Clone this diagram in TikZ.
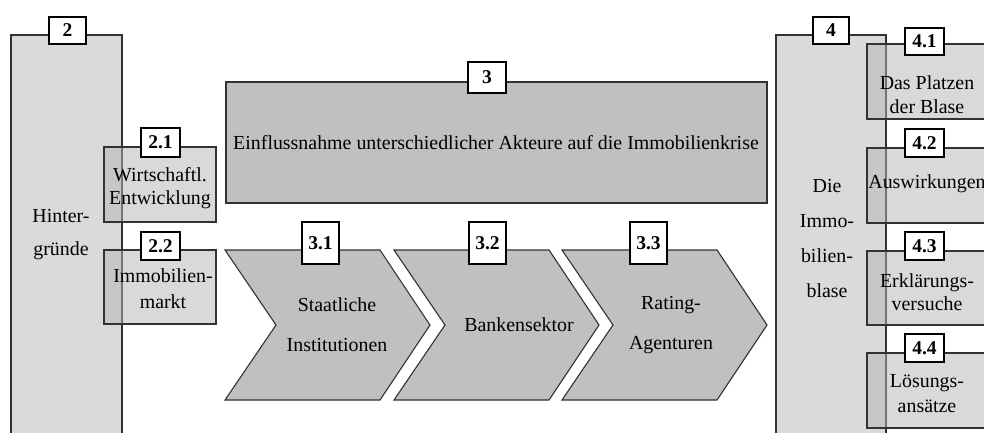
\documentclass[tikz,border=0pt]{standalone}
\usepackage{fontspec}
\setmainfont{Liberation Serif}
\definecolor{edge}{RGB}{50,50,50}
\definecolor{pale}{RGB}{218,218,218}
\definecolor{subfill}{RGB}{181,181,181}
\definecolor{silver}{RGB}{192,192,192}
\begin{document}
\begin{tikzpicture}[x=1pt,y=-1pt,
  box/.style={draw=edge, line width=1.1pt, inner sep=0pt},
  col/.style={box, fill=pale},
  sub/.style={box, fill=subfill, fill opacity=0.5},
  main/.style={box, fill=silver},
  tag/.style={draw=black, line width=1.2pt, fill=white, inner sep=0pt,
    minimum width=38pt, minimum height=28pt,
    font=\fontsize{19.5}{19.5}\selectfont\bfseries},
  txt/.style={align=center, inner sep=0pt, font=\fontsize{19.9}{#1}\selectfont},
  txt/.default=24
]
\fill[white] (0,0) rectangle (984,433);
\useasboundingbox (0,0) rectangle (984,433);

% tall columns
\node[col, minimum width=111pt, minimum height=410pt] (b2) at (66.5,240) {};
\node[col, minimum width=110pt, minimum height=410pt] (b4) at (831,240) {};

% sub-boxes of chapter 2 (translucent over the column)
\node[sub, minimum width=112pt, minimum height=75pt] (b21) at (160,184.5) {};
\node[sub, minimum width=112pt, minimum height=74pt] (b22) at (160,287) {};

% chapter 3 banner
\node[main, minimum width=541pt, minimum height=121pt] (b3) at (496.5,142.5) {};

% chevrons of chapter 3
\foreach \L in {225,394,562} {
  \draw[main] (\L,250) -- ++(155,0) -- ++(50,75) -- ++(-50,75)
    -- ++(-155,0) -- ++(51,-75) -- cycle;
}

% sub-boxes of chapter 4 (translucent over the column)
\node[sub, minimum width=119pt, minimum height=75pt] (b41) at (926.5,81.5) {};
\node[sub, minimum width=119pt, minimum height=75pt] (b42) at (926.5,185.5) {};
\node[sub, minimum width=119pt, minimum height=74pt] (b43) at (926.5,288) {};
\node[sub, minimum width=119pt, minimum height=75pt] (b44) at (926.5,390.5) {};

% texts
\node[txt=33] (t2) at (61,234.5) {Hinter-\\gründe};
\node[txt=23] (t21) at (160,188.5) {Wirtschaftl.\\Entwicklung};
\node[txt=26] (t22) at (163,289) {Immobilien-\\markt};
\node[txt] (t3) at (496,143) {Einflussnahme unterschiedlicher Akteure auf die Immobilienkrise};
\node[txt=40] (t31) at (337,325) {Staatliche\\Institutionen};
\node[txt] (t32) at (519,325) {Bankensektor};
\node[txt=40] (t33) at (671,325) {Rating-\\Agenturen};
\node[txt=35] (t4) at (827,239) {Die\\Immo-\\bilien-\\blase};
\node[txt=24] (t41) at (927,95) {Das Platzen\\der Blase};
\node[txt] (t42) at (927,184) {Auswirkungen};
\node[txt=23] (t43) at (927,292.5) {Erklärungs-\\versuche};
\node[txt=25] (t44) at (927,394) {Lösungs-\\ansätze};

% number tags
\node[tag, minimum width=37pt, minimum height=27pt] (l2) at (67.5,30.5) {2};
\node[tag, minimum width=39pt, minimum height=29pt] (l21) at (160.5,142.5) {2.1};
\node[tag, minimum width=39pt] (l22) at (160.5,246) {2.2};
\node[tag, minimum height=31pt] (l3) at (487,77.5) {3};
\node[tag, minimum width=37pt, minimum height=42pt] (l31) at (320.5,243) {3.1};
\node[tag, minimum width=37pt, minimum height=42pt] (l32) at (487.5,243) {3.2};
\node[tag, minimum width=37pt, minimum height=42pt] (l33) at (648.5,243) {3.3};
\node[tag, minimum width=36pt, minimum height=27pt] (l4) at (831,30.5) {4};
\node[tag, minimum width=39pt, minimum height=27pt] (l41) at (924.5,41.5) {4.1};
\node[tag, minimum width=39pt] (l42) at (924.5,143) {4.2};
\node[tag, minimum width=39pt] (l43) at (924.5,246) {4.3};
\node[tag, minimum width=39pt] (l44) at (924.5,348) {4.4};
\end{tikzpicture}
\end{document}
